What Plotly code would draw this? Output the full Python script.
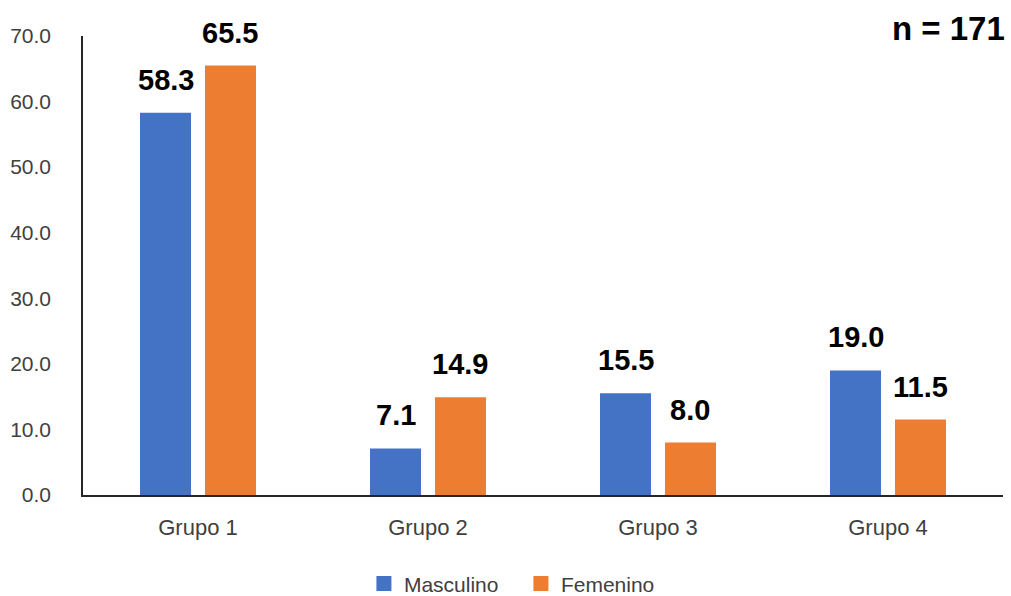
import plotly.graph_objects as go

categories = ["Grupo 1", "Grupo 2", "Grupo 3", "Grupo 4"]
masculino = [58.3, 7.1, 15.5, 19.0]
femenino = [65.5, 14.9, 8.0, 11.5]
y_ticks = [0, 10, 20, 30, 40, 50, 60, 70]
sample_label = "n = 171"

BLUE = "#4472C4"
ORANGE = "#ED7D31"
FONT = "Liberation Sans, Arial, sans-serif"
TEXT_GREY = "#404040"
AXIS_COLOR = "#262626"

BARGAP = 0.435
BARGROUPGAP = 0.215
# half of one bar slot, in category units, to centre value labels on bars
HALF_SLOT = (1 - BARGAP) / 4

fig = go.Figure()
fig.add_trace(go.Bar(name="Masculino", x=categories, y=masculino,
                     marker=dict(color=BLUE, line=dict(width=0)),
                     showlegend=False))
fig.add_trace(go.Bar(name="Femenino", x=categories, y=femenino,
                     marker=dict(color=ORANGE, line=dict(width=0)),
                     showlegend=False))

# legend entries with larger square swatches
for name, color in [("Masculino", BLUE), ("Femenino", ORANGE)]:
    fig.add_trace(go.Scatter(name=name, x=[None], y=[None], mode="markers",
                             marker=dict(symbol="square", size=15, color=color),
                             showlegend=True))

annotations = []
for trace_idx, vals in enumerate([masculino, femenino]):
    offset = -HALF_SLOT if trace_idx == 0 else HALF_SLOT
    for i, v in enumerate(vals):
        annotations.append(dict(
            x=i + offset, y=v, xref="x", yref="y",
            text=f"<b>{v:.1f}</b>", showarrow=False,
            yanchor="bottom", yshift=15,
            font=dict(family=FONT, size=29, color="#000000"),
        ))

annotations.append(dict(
    x=1.0, y=1.0, xref="paper", yref="paper",
    text=f"<b>{sample_label}</b>", showarrow=False,
    xanchor="right", yanchor="middle", yshift=8, xshift=4,
    font=dict(family=FONT, size=33, color="#000000"),
))

fig.update_layout(
    width=1011, height=596,
    margin=dict(l=83, r=8, t=36, b=101),
    paper_bgcolor="white", plot_bgcolor="white",
    barmode="group", bargap=BARGAP, bargroupgap=BARGROUPGAP,
    font=dict(family=FONT, size=21, color=TEXT_GREY),
    showlegend=True,
    legend=dict(orientation="h", x=0.476, xanchor="center",
                yref="container", y=0.0205, yanchor="middle",
                font=dict(family=FONT, size=21, color=TEXT_GREY),
                traceorder="normal", itemwidth=30, tracegroupgap=0,
                entrywidth=112),
    annotations=annotations,
)
fig.update_xaxes(
    type="category", range=[-0.5, 3.5],
    showline=True, linecolor=AXIS_COLOR, linewidth=1.5,
    showgrid=False, ticks="", ticklabelstandoff=12,
    tickfont=dict(size=22, color=TEXT_GREY),
)
fig.update_yaxes(
    range=[0, 70], tickvals=y_ticks,
    ticktext=[f"{t:.1f}" for t in y_ticks],
    showline=True, linecolor=AXIS_COLOR, linewidth=1.5,
    showgrid=False, ticks="", ticklabelstandoff=26,
    tickfont=dict(size=21, color=TEXT_GREY), zeroline=False,
)

fig.write_html("out.html")
